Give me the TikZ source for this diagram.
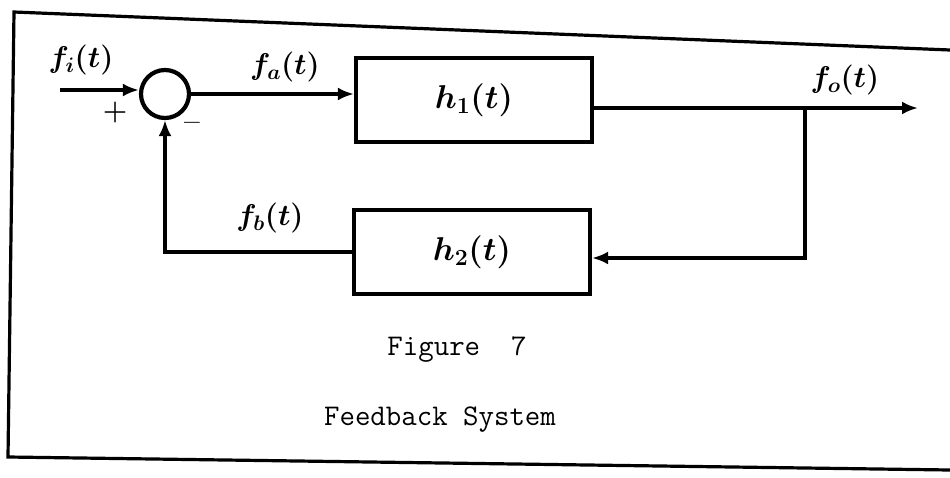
\RequirePackage{fix-cm}
\documentclass[tikz,border=0pt]{standalone}
\usetikzlibrary{arrows.meta}
\begin{document}
\begin{tikzpicture}[x=1pt,y=-1pt,
  wire/.style={line width=4.2pt},
  sig/.style={wire,-{Latex[length=16pt,width=13pt]}},
  blockbox/.style={draw,line width=4.2pt,minimum width=236pt,minimum height=84pt,inner sep=0pt},
  lbl/.style={font=\fontsize{30}{36}\selectfont\boldmath},
  sgn/.style={font=\fontsize{28}{32}\selectfont\bfseries\boldmath},
  blbl/.style={font=\fontsize{33}{38}\selectfont\boldmath},
  captext/.style={font=\fontsize{30}{36}\selectfont\ttfamily}]
\useasboundingbox (0,0) rectangle (950,477);
% frame
\draw[line width=3.2pt] (950,50) -- (14,12) -- (8,457) -- (950,470);
% nodes
\node[draw,circle,line width=4.2pt,minimum size=48pt,inner sep=0pt] (sum) at (165,94) {};
\node[blockbox] (h1) at (474,100) {};
\node[blbl] at (h1) {$h_1(t)$};
\node[blockbox] (h2) at (472,252) {};
\node[blbl] at (h2) {$h_2(t)$};
\coordinate (in) at (60,90);
\coordinate (out) at (918,108);
\coordinate (br) at (805,108);
\coordinate (brd) at (805,258);
% connectors
\draw[sig] (in) -- (sum.west |- in);
\draw[sig] (sum.east) -- (sum.east -| h1.west);
\draw[sig] (h1.east |- out) -- (out);
\draw[sig] (br) -- (brd) -- (brd -| h2.east);
\draw[sig] (h2.west) -- (sum.south |- h2.west) -- (sum.south);
% labels
\node[lbl] (li) at (81,60) {$f_i(t)$};
\node[lbl] (la) at (285,67) {$f_a(t)$};
\node[lbl] (lo) at (845,80) {$f_o(t)$};
\node[lbl] (lb) at (270,218) {$f_b(t)$};
\node[sgn] (plus) at (115,112) {$+$};
\node[sgn] (minus) at (192,126) {--};
\node[captext] (fig) at (457,350) {Figure\ \ 7};
\node[captext] (ttl) at (440,420) {Feedback System};
\end{tikzpicture}
\end{document}
